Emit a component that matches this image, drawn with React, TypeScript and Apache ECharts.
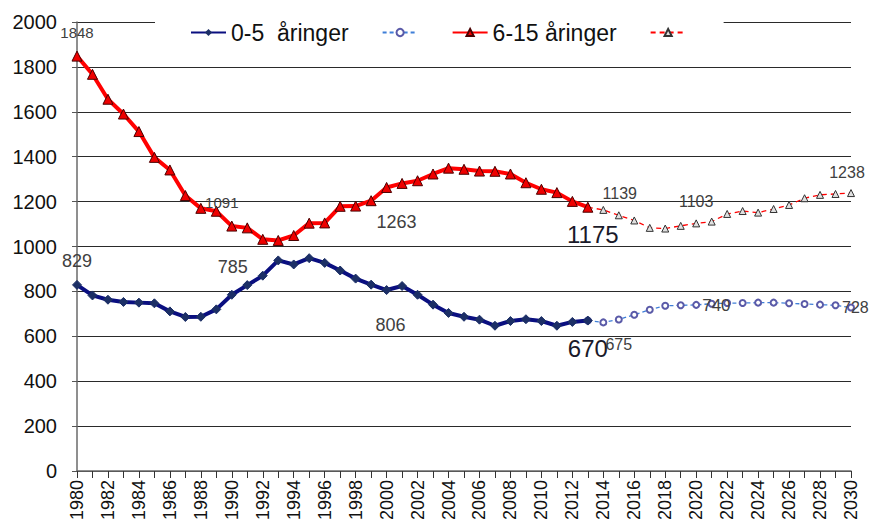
import React, { useEffect, useRef } from "react";
import * as echarts from "echarts";

const years: string[] = [
  "1980","1981","1982","1983","1984","1985","1986","1987","1988","1989",
  "1990","1991","1992","1993","1994","1995","1996","1997","1998","1999",
  "2000","2001","2002","2003","2004","2005","2006","2007","2008","2009",
  "2010","2011","2012","2013","2014","2015","2016","2017","2018","2019",
  "2020","2021","2022","2023","2024","2025","2026","2027","2028","2029","2030",
];

// 0-5 åringer, 1980-2013
const blueActual = [829,782,763,753,750,747,711,686,687,720,785,828,870,938,920,948,927,893,857,830,806,824,785,741,704,687,674,647,668,676,668,647,664,670];
// 0-5 prognose, 2013-2030
const blueForecast = [670,662,675,696,718,736,738,740,745,748,748,750,750,747,744,741,738,728];
// 6-15 åringer, 1980-2013
const redActual = [1848,1767,1656,1590,1512,1397,1341,1227,1170,1157,1091,1083,1032,1027,1049,1104,1105,1179,1180,1204,1263,1281,1293,1323,1349,1344,1336,1335,1323,1284,1255,1240,1201,1175];
// 6-15 prognose, 2013-2030
const redForecast = [1175,1163,1139,1116,1083,1080,1092,1103,1111,1145,1158,1151,1167,1185,1215,1230,1234,1238];

const forecastStart = 2013;

type LabelSpec = { year: number; position: string; offset: number[]; size: number; color?: string };

const blueActualLabels: LabelSpec[] = [
  { year: 1980, position: "top", offset: [0, -5], size: 18 },
  { year: 1990, position: "top", offset: [1, -9], size: 18 },
  { year: 2000, position: "bottom", offset: [4, 16], size: 18 },
  { year: 2013, position: "bottom", offset: [0, 6], size: 24, color: "#1a1a2a" },
];
const blueForecastLabels: LabelSpec[] = [
  { year: 2015, position: "bottom", offset: [0, 8], size: 16 },
  { year: 2020, position: "right", offset: [-3, 1], size: 17 },
  { year: 2030, position: "right", offset: [-18, 0], size: 16 },
];
const redActualLabels: LabelSpec[] = [
  { year: 1980, position: "top", offset: [0, -6], size: 15 },
  { year: 1990, position: "top", offset: [-10, -6], size: 15 },
  { year: 2000, position: "bottom", offset: [10, 15], size: 18 },
  { year: 2013, position: "bottom", offset: [5, 5], size: 24, color: "#1a1a2a" },
];
const redForecastLabels: LabelSpec[] = [
  { year: 2015, position: "top", offset: [1, -5], size: 16 },
  { year: 2020, position: "top", offset: [0, -5], size: 16 },
  { year: 2030, position: "top", offset: [-4, -4], size: 16 },
];

function build(values: number[], startYear: number, labels: LabelSpec[]) {
  return years.map((y) => {
    const yr = Number(y);
    const idx = yr - startYear;
    if (idx < 0 || idx >= values.length) return null;
    const v = values[idx];
    const spec = labels.find((l) => l.year === yr);
    if (!spec) return v;
    return {
      value: v,
      label: {
        show: true,
        position: spec.position,
        offset: spec.offset,
        fontSize: spec.size,
        color: spec.color || "#404040",
        fontFamily: "Liberation Sans, Arial, sans-serif",
      },
    };
  });
}

export default function App() {
  const ref = useRef<HTMLDivElement>(null);
  useEffect(() => {
    if (!ref.current) return;
    const chart = echarts.init(ref.current, null, { renderer: "svg" });
    const font = "Liberation Sans, Arial, sans-serif";
    chart.setOption({
      animation: false,
      backgroundColor: "#ffffff",
      textStyle: { fontFamily: font },
      grid: { left: 77, right: 24, top: 22, bottom: 53, containLabel: false },
      legend: {
        left: 155,
        top: 13,
        padding: [8, 37, 8, 35],
        itemGap: 33,
        itemWidth: 35,
        itemHeight: 9,
        backgroundColor: "#ffffff",
        z: 10,
        textStyle: { fontSize: 23, color: "#111", fontFamily: font },
        formatter: (name: string) => (name.startsWith("prognose") ? "" : name),
        data: ["0-5  åringer", "prognose 0-5", "6-15 åringer", "prognose 6-15"],
      },
      xAxis: {
        type: "category",
        data: years,
        boundaryGap: false,
        axisLine: { lineStyle: { color: "#6a6a6a", width: 1.5 } },
        axisTick: { show: true, interval: 0, length: 7, lineStyle: { color: "#333" } },
        axisLabel: {
          interval: 1,
          rotate: 90,
          fontSize: 18,
          color: "#111",
          margin: 9,
          fontFamily: font,
        },
        splitLine: { show: false },
      },
      yAxis: {
        type: "value",
        min: 0,
        max: 2000,
        interval: 200,
        axisLine: { show: true, lineStyle: { color: "#6a6a6a", width: 1.5 } },
        axisTick: { show: true, length: 5, lineStyle: { color: "#555" } },
        axisLabel: {
          fontSize: 20,
          color: "#111",
          margin: 20,
          fontFamily: font,
          formatter: (v: number) => String(v),
        },
        splitLine: { show: true, lineStyle: { color: "#2a2a2a", width: 1 } },
      },
      series: [
        {
          name: "0-5  åringer",
          type: "line",
          z: 4,
          data: build(blueActual, 1980, blueActualLabels),
          symbol: "diamond",
          symbolSize: 9,
          itemStyle: { color: "#1c2f66", borderColor: "#1c2f66" },
          lineStyle: { color: "#0a0f80", width: 4 },
        },
        {
          name: "prognose 0-5",
          type: "line",
          z: 3,
          data: build(blueForecast, forecastStart, blueForecastLabels),
          symbol: "emptyCircle",
          symbolSize: 6,
          itemStyle: { color: "#5a5aa8", borderColor: "#5a5aa8", borderWidth: 1.2 },
          lineStyle: { color: "#3f7fd8", width: 1.3, type: [4, 3] },
        },
        {
          name: "6-15 åringer",
          type: "line",
          z: 4,
          data: build(redActual, 1980, redActualLabels),
          symbol: "triangle",
          symbolSize: 10,
          itemStyle: { color: "#ee0000", borderColor: "#4a0000", borderWidth: 1 },
          lineStyle: { color: "#ff0000", width: 4 },
        },
        {
          name: "prognose 6-15",
          type: "line",
          z: 3,
          data: build(redForecast, forecastStart, redForecastLabels),
          symbol: "triangle",
          symbolSize: 7,
          itemStyle: { color: "#e0e0e0", borderColor: "#333", borderWidth: 1 },
          lineStyle: { color: "#ff0000", width: 1.3, type: [5, 4] },
        },
      ],
    });
    return () => chart.dispose();
  }, []);
  return <div ref={ref} style={{ width: 875, height: 524, position: "absolute", left: 0, top: 0 }} />;
}
